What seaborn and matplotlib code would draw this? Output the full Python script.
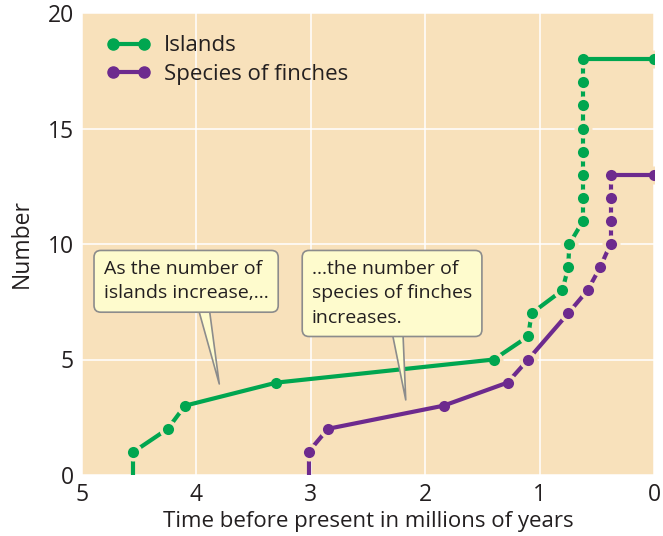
import numpy as np
import pandas as pd
import seaborn as sns
import matplotlib
matplotlib.use("Agg")
import matplotlib.pyplot as plt  # noqa
from matplotlib.lines import Line2D  # noqa

# values
islands_time = [4.55, 4.55, 4.25, 4.1, 3.3, 1.4, 1.1, 1.07, 0.8, 0.75, 0.74,
                0.62, 0.62, 0.62, 0.62, 0.62, 0.62, 0.62, 0.62, 0.0]
islands_count = [0, 1, 2, 3, 4, 5, 6, 7, 8, 9, 10,
                 11, 12, 13, 14, 15, 16, 17, 18, 18]
# True = dashed segment between point i and i+1
islands_dashed = [True, True, True, False, False, True, True, True, True, True,
                  True, True, True, True, True, True, True, True, False]

finches_time = [3.02, 3.02, 2.85, 1.84, 1.28, 1.1, 0.75, 0.58, 0.47, 0.38,
                0.38, 0.38, 0.38, 0.0]
finches_count = [0, 1, 2, 3, 4, 5, 7, 8, 9, 10, 11, 12, 13, 13]
finches_dashed = [True, True, False, False, True, True, True, True, True, True,
                  True, True, False]

x_ticks = [5, 4, 3, 2, 1, 0]
y_ticks = [0, 5, 10, 15, 20]

GREEN = "#00a650"
PURPLE = "#6d2a8e"
BG = "#f8e1bb"
TEXT = "#231f20"
NOTE_FC = "#fefbcd"
NOTE_EC = "#8c8c8c"


def _segments(times, counts, dashed, name):
    rows = []
    for i, d in enumerate(dashed):
        for j in (i, i + 1):
            rows.append({"time": times[j], "count": counts[j], "seg": i,
                         "dashed": d, "series": name})
    return pd.DataFrame(rows)


def _points(times, counts, name):
    # first point sits on the axis and has no marker
    return pd.DataFrame({"time": times[1:], "count": counts[1:], "series": name})


sns.set_style("whitegrid", {"axes.facecolor": BG, "grid.color": "white",
                            "axes.edgecolor": BG})
plt.rcParams["font.family"] = ["Open Sans", "DejaVu Sans"]
plt.rcParams["text.color"] = TEXT

fig = plt.figure(figsize=(6.63, 5.36), dpi=100)
ax = fig.add_axes([82 / 663, 61 / 536, 572 / 663, 462 / 536])
ax.grid(True, color="white", linewidth=1.1)

series = [
    ("Islands", islands_time, islands_count, islands_dashed, GREEN),
    ("Species of finches", finches_time, finches_count, finches_dashed, PURPLE),
]

lw = 3.0
ms = 8.0

# 1. dashed segments (full lines, later cut by marker halos)
for name, t, c, d, col in series:
    seg = _segments(t, c, d, name)
    sns.lineplot(data=seg[seg["dashed"]], x="time", y="count", units="seg",
                 estimator=None, sort=False, color=col, linewidth=lw,
                 solid_capstyle="butt", legend=False, ax=ax)

# 2. halo around markers (cuts dashed lines and grid near markers)
for name, t, c, d, col in series:
    sns.scatterplot(data=_points(t, c, name), x="time", y="count", s=ms ** 2,
                    color=BG, edgecolor=BG, linewidth=5.0, legend=False,
                    ax=ax, zorder=3)

# 3. solid segments on top
for name, t, c, d, col in series:
    seg = _segments(t, c, d, name)
    sns.lineplot(data=seg[~seg["dashed"]], x="time", y="count", units="seg",
                 estimator=None, sort=False, color=col, linewidth=lw,
                 legend=False, ax=ax, zorder=4)

# 4. markers
for name, t, c, d, col in series:
    sns.scatterplot(data=_points(t, c, name), x="time", y="count", s=ms ** 2,
                    color=col, linewidth=0, legend=False, ax=ax, zorder=5)

ax.set_xlim(5, 0)
ax.set_ylim(0, 20)
ax.set_xticks(x_ticks)
ax.set_yticks(y_ticks)
ax.tick_params(axis="both", length=0, labelsize=16.5, colors=TEXT)
ax.tick_params(axis="x", pad=6)
ax.tick_params(axis="y", pad=6)
for s in ax.spines.values():
    s.set_visible(False)
ax.set_xlabel("Time before present in millions of years", fontsize=16,
              color=TEXT, labelpad=3)
ax.set_ylabel("Number", fontsize=16.5, color=TEXT, labelpad=10)

handles = [Line2D([0], [0], color=col, linewidth=lw, marker="o",
                  markersize=ms, label=name)
           for name, t, c, d, col in series]
ax.legend(handles=handles, loc="upper left", bbox_to_anchor=(0.015, 0.985),
          frameon=False, numpoints=2, handlelength=2.0, handletextpad=0.6,
          labelspacing=0.35, fontsize=16, borderpad=0.2)

box = dict(boxstyle="round,pad=0.5,rounding_size=0.35", fc=NOTE_FC,
           ec=NOTE_EC, lw=1.2)
ax.annotate("As the number of\nislands increase,…", xy=(3.8, 3.94),
            xytext=(4.81, 9.3), ha="left", va="top", fontsize=14,
            linespacing=1.45, bbox=box, zorder=6,
            arrowprops=dict(arrowstyle="wedge,tail_width=0.6", fc=NOTE_FC,
                            ec=NOTE_EC, lw=1.2, relpos=(0.6, 0.0),
                            patchA=None, shrinkA=0, shrinkB=0))
ax.annotate("…the number of\nspecies of finches\nincreases.", xy=(2.17, 3.25),
            xytext=(2.99, 9.3), ha="left", va="top", fontsize=14,
            linespacing=1.45, bbox=box, zorder=6,
            arrowprops=dict(arrowstyle="wedge,tail_width=0.6", fc=NOTE_FC,
                            ec=NOTE_EC, lw=1.2, relpos=(0.53, 0.0),
                            patchA=None, shrinkA=0, shrinkB=0))

fig.savefig("out.png", dpi=100, facecolor="white")
